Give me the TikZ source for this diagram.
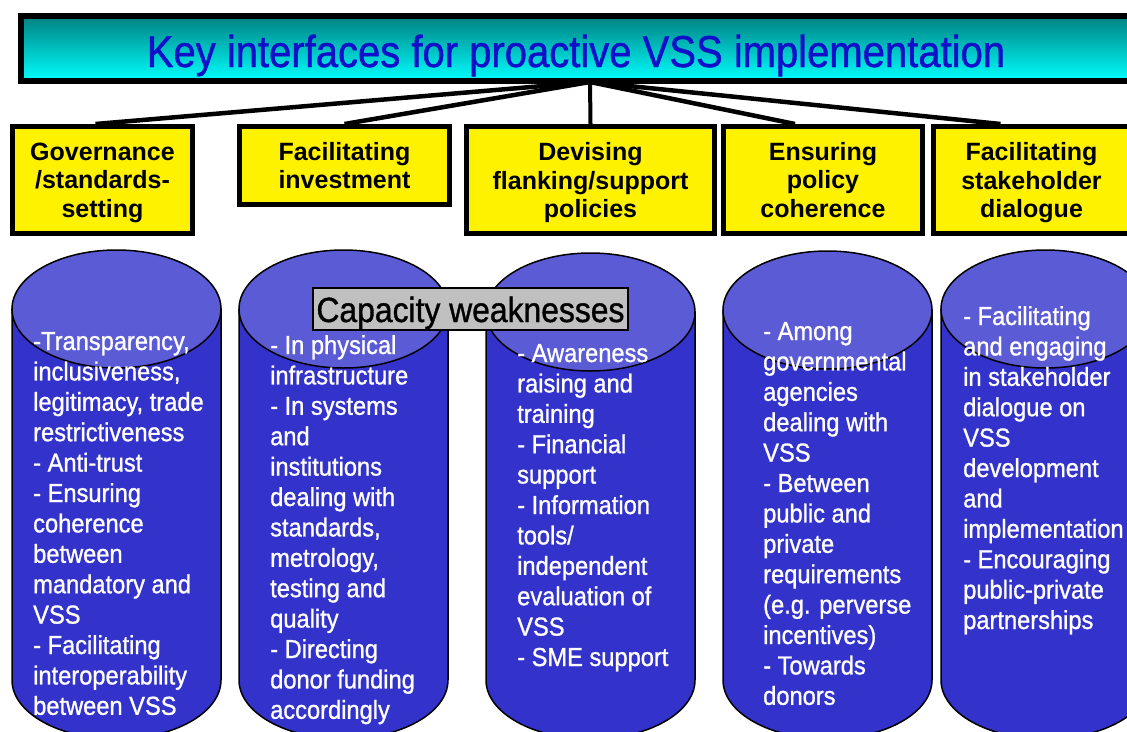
\documentclass[tikz,border=0pt]{standalone}
\usepackage{fontspec}
\setmainfont{Liberation Sans}
\newfontfamily\narrowfont[FakeStretch=0.91,FakeBold=1]{Liberation Sans}
\newfontfamily\titlefont[FakeStretch=0.895,FakeBold=1]{Liberation Sans}
\usetikzlibrary{calc}
\definecolor{cylbody}{RGB}{51,51,204}
\definecolor{cyltopc}{RGB}{91,91,214}
\definecolor{titleblue}{RGB}{16,16,200}
\definecolor{tealtop}{RGB}{0,128,128}
\definecolor{cyanbot}{RGB}{0,255,255}
\definecolor{capgray}{RGB}{192,192,192}
\tikzset{
  titlebox/.style={draw=black, line width=6pt, top color=tealtop, bottom color=cyanbot, inner sep=0pt},
  titletext/.style={text=titleblue, font=\titlefont\fontsize{44.7}{50}\selectfont, inner sep=0pt, anchor=base},
  hdr/.style={draw=black, line width=5pt, fill=yellow, align=center, inner sep=0pt,
    font=\bfseries\fontsize{25}{28.5}\selectfont},
  fan/.style={line width=4.5pt},
  stem/.style={line width=4pt},
  cylside/.style={fill=cylbody, draw=black, line width=1.5pt},
  cylcap/.style={fill=cyltopc, draw=black, line width=1.5pt},
  bodytext/.style={text=white, font=\narrowfont\fontsize{26}{30.4}\selectfont, inner sep=0pt, anchor=base west},
  capbox/.style={draw=black, line width=2pt, fill=capgray, inner xsep=0pt, inner ysep=0pt,
    minimum width=315pt, text height=34pt, text depth=8pt, anchor=base,
    font=\narrowfont\fontsize{35}{40}\selectfont},
}
\newcommand\cyllines[1]{\begin{tabular}[t]{@{}l@{}}#1\end{tabular}}
\begin{document}
\begin{tikzpicture}[x=1pt,y=-1pt]
\useasboundingbox (0,0) rectangle (1127,731);

% title
\node[titlebox, minimum width=1116pt, minimum height=65pt] (tbox) at (579,48.5) {};
\node[titletext] (title) at (576,67) {Key interfaces for proactive VSS implementation};

% header boxes
\node[hdr, minimum width=180pt, minimum height=107pt] (b1) at (102.5,180) {Governance\\/standards-\\\smash{setting}};
\node[hdr, minimum width=210pt, minimum height=78pt] (b2) at (344.5,165.5) {Facilitating\\investment};
\node[hdr, minimum width=248pt, minimum height=107pt] (b3) at (590.5,180) {Devising\\flanking/support\\\smash{policies}};
\node[hdr, minimum width=199pt, minimum height=107pt] (b4) at (823,180) {Ensuring\\policy\\coherence};
\node[hdr, minimum width=196pt, minimum height=107pt] (b5) at (1031.5,180) {Facilitating\\stakeholder\\\smash{dialogue}};

% fan connectors
\coordinate (hub) at (590,82);
\draw[fan] (hub) -- ($(b1.north)+(-7,0)$);
\draw[fan] (hub) -- (b2.north);
\draw[stem] (hub) -- (b3.north);
\draw[fan] (hub) -- ($(b4.north)+(-28,0)$);
\draw[fan] (hub) -- ($(b5.north)+(-31,0)$);

% cylinders
\foreach \xl/\yt in {12/309,239/309,486/312,723/310,941/309}{
  \path[cylside] (\xl,\yt) -- (\xl,680)
     arc[start angle=180, end angle=360, x radius=104.5pt, y radius=59pt]
     -- (\xl+209,\yt) -- cycle;
  \path[cylcap] (\xl+104.5,\yt) ellipse [x radius=104.5pt, y radius=59pt];
}

% capacity label
\node[capbox] (cap) at (470.5,322) {Capacity weaknesses};

% cylinder texts
\node[bodytext] (c1) at (33,350) {\cyllines{-Transparency,\\inclusiveness,\\legitimacy, trade\\restrictiveness\\- Anti-trust\\- Ensuring\\coherence\\between\\mandatory and\\VSS\\- Facilitating\\interoperability\\between VSS}};
\node[bodytext] (c2) at (270,354) {\cyllines{- In physical\\infrastructure\\- In systems\\and\\institutions\\dealing with\\standards,\\metrology,\\testing and\\quality\\- Directing\\donor funding\\accordingly}};
\node[bodytext] (c3) at (517,362) {\cyllines{- Awareness\\raising and\\training\\- Financial\\support\\- Information\\tools/\\independent\\evaluation of\\VSS\\- SME support}};
\node[bodytext] (c4) at (763,340) {\cyllines{- Among\\governmental\\agencies\\dealing with\\VSS\\- Between\\public and\\private\\requirements\\(e.g. perverse\\incentives)\\- Towards\\donors}};
\node[bodytext] (c5) at (963,325) {\cyllines{- Facilitating\\and engaging\\in stakeholder\\dialogue on\\VSS\\development\\and\\implementation\\- Encouraging\\public-private\\partnerships}};
\end{tikzpicture}
\end{document}
